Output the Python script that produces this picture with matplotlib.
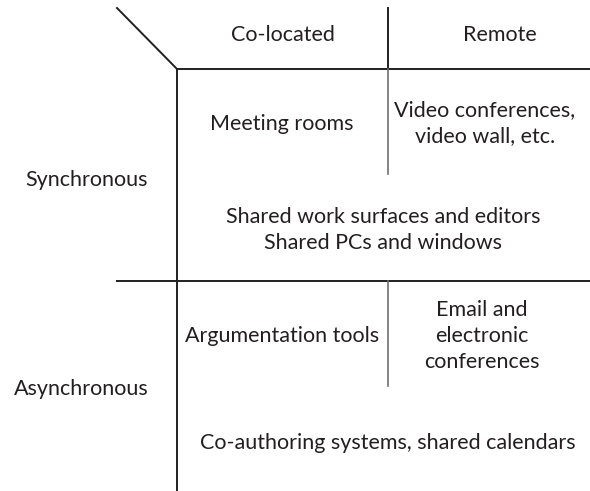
import matplotlib
matplotlib.use("Agg")
import matplotlib.pyplot as plt

col_headers = ["Co-located", "Remote"]
row_headers = ["Synchronous", "Asynchronous"]
cells = [
    "Meeting rooms",
    "Video conferences,\nvideo wall, etc.",
    "Shared work surfaces and editors\nShared PCs and windows",
    "Argumentation tools",
    "Email and\nelectronic\nconferences",
    "Co-authoring systems, shared calendars",
]

W, H = 590, 491
fig = plt.figure(figsize=(W / 100, H / 100), dpi=100)
ax = fig.add_axes([0, 0, 1, 1])
ax.set_xlim(0, W)
ax.set_ylim(H, 0)
ax.axis("off")

dark = "#231f20"
gray = "#6d6e71"
FONT = "Lato"
FS = 15.5

# lines
ax.plot([117, 177], [8, 69], color=dark, lw=1.4)
ax.plot([177, W], [69, 69], color=dark, lw=1.4)
ax.plot([177, 177], [69, H], color=dark, lw=1.4)
ax.plot([388, 388], [8, 69], color=dark, lw=1.4)
ax.plot([388, 388], [69, 174], color=gray, lw=1.2)
ax.plot([117, W], [281, 281], color=dark, lw=1.4)
ax.plot([388, 388], [281, 386], color=gray, lw=1.2)

kw = dict(ha="center", va="center", family=FONT, fontsize=FS, color=dark,
          linespacing=1.4)
ax.text(283, 35, col_headers[0], **kw)
ax.text(500, 35, col_headers[1], **kw)
ax.text(87, 180, row_headers[0], **kw)
ax.text(81, 389, row_headers[1], **kw)
ax.text(282, 124, cells[0], **kw)
ax.text(485, 123, cells[1], **kw)
ax.text(383, 230, cells[2], **kw)
ax.text(282, 336, cells[3], **kw)
ax.text(482, 336, cells[4], **kw)
ax.text(388, 443, cells[5], **kw)

fig.savefig("out.png", dpi=100)
